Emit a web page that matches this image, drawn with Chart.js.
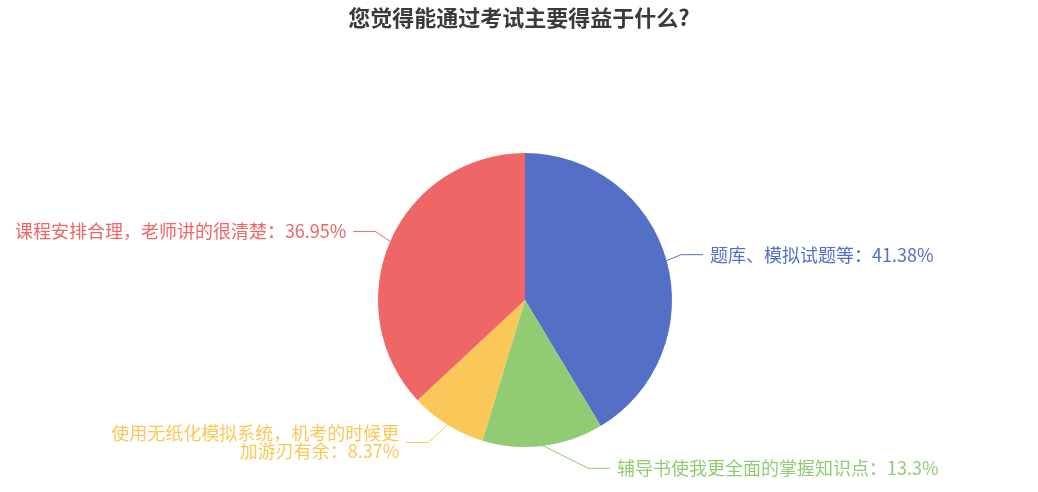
<!DOCTYPE html>
<html>
<head>
<meta charset="utf-8">
<script src="https://cdn.jsdelivr.net/npm/chart.js@4/dist/chart.umd.min.js"></script>
<style>
  html, body { margin: 0; padding: 0; background: #fff; }
  #wrap { width: 1038px; height: 492px; position: relative; }
</style>
</head>
<body>
<div id="wrap"><canvas id="pieChart" width="1038" height="492"></canvas></div>
<script>
const chartTitle = '您觉得能通过考试主要得益于什么?';
const categories = [
  '题库、模拟试题等',
  '辅导书使我更全面的掌握知识点',
  '使用无纸化模拟系统，机考的时候更\n加游刃有余',
  '课程安排合理，老师讲的很清楚'
];
const percents = [41.38, 13.3, 8.37, 36.95];
const colors = ['#5470c6', '#91cc75', '#fac858', '#ee6666'];

// leader line tweaks (elbow nudge after the radial segment), px
const elbowNudge = [[0, -2], [43, 7.5], [-11, 5], [-1, -4]];
const FONT = '"Noto Sans CJK SC", "Noto Sans", sans-serif';

const labelPlugin = {
  id: 'outerLabels',
  afterDraw(chart) {
    const ctx = chart.ctx;
    // title
    ctx.save();
    ctx.fillStyle = '#3a3a3a';
    ctx.font = 'bold 22px ' + FONT;
    ctx.textAlign = 'center';
    ctx.textBaseline = 'middle';
    ctx.fillText(chartTitle, 519, 18);
    ctx.restore();

    const meta = chart.getDatasetMeta(0);
    meta.data.forEach((arc, i) => {
      const p = arc.getProps(['x', 'y', 'startAngle', 'endAngle', 'outerRadius'], true);
      const mid = (p.startAngle + p.endAngle) / 2;
      const cos = Math.cos(mid), sin = Math.sin(mid);
      const ax = p.x + cos * p.outerRadius, ay = p.y + sin * p.outerRadius;
      const ex = p.x + cos * (p.outerRadius + 15) + elbowNudge[i][0];
      const ey = p.y + sin * (p.outerRadius + 15) + elbowNudge[i][1];
      const right = cos >= 0;
      const lx = ex + (right ? 22 : -22);

      ctx.save();
      ctx.strokeStyle = colors[i];
      ctx.lineWidth = 1;
      ctx.beginPath();
      ctx.moveTo(ax, ay);
      ctx.lineTo(ex, ey);
      ctx.lineTo(lx, ey);
      ctx.stroke();

      const text = categories[i] + '：' + percents[i] + '%';
      const lines = text.split('\n');
      ctx.fillStyle = colors[i];
      ctx.font = '18px ' + FONT;
      ctx.textAlign = right ? 'left' : 'right';
      ctx.textBaseline = 'middle';
      const lh = 18;
      const tx = lx + (right ? 7 : -7);
      const y0 = ey - (lines.length - 1) * lh / 2;
      lines.forEach((ln, k) => ctx.fillText(ln, tx, y0 + k * lh));
      ctx.restore();
    });
  }
};

new Chart(document.getElementById('pieChart'), {
  type: 'pie',
  data: {
    labels: categories,
    datasets: [{
      data: percents,
      backgroundColor: colors,
      borderWidth: 0
    }]
  },
  options: {
    responsive: false,
    animation: false,
    devicePixelRatio: 1,
    layout: { padding: { top: 153, bottom: 45, left: 378, right: 366 } },
    plugins: {
      legend: { display: false },
      tooltip: { enabled: false }
    }
  },
  plugins: [labelPlugin]
});
</script>
</body>
</html>
